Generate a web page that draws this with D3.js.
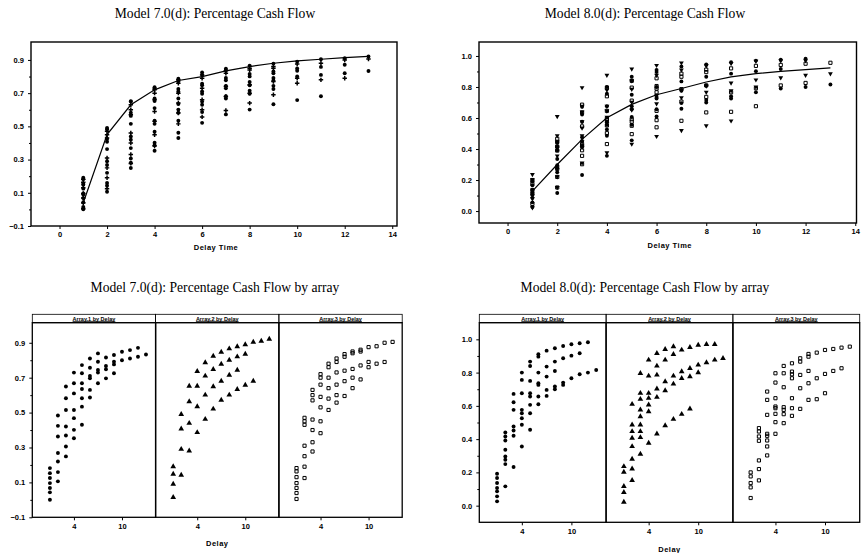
<!DOCTYPE html>
<html>
<head>
<meta charset="utf-8">
<script src="https://d3js.org/d3.v7.min.js"></script>
<style>
 body { margin: 0; background: #fff; }
 .title { font-family: "Liberation Serif", "Times New Roman", serif; font-size: 13.6px; fill: #000; }
 .lab { font-family: "Liberation Sans", Arial, sans-serif; font-weight: bold; font-size: 7.5px; fill: #000; }
 .strip { font-family: "Liberation Sans", Arial, sans-serif; font-weight: bold; font-size: 5.5px; fill: #000; }
</style>
</head>
<body>
<script>
// ---- data (index 0 = delay 1) ----
var delays = d3.range(1, 14);
var xTicksTop = [0, 2, 4, 6, 8, 10, 12, 14];
var xTicksArr = [4, 10];
var yTicks7 = [-0.1, 0.1, 0.3, 0.5, 0.7, 0.9];
var yTicks8 = [0.0, 0.2, 0.4, 0.6, 0.8, 1.0];
var stripNames = ["Array.1 by Delay", "Array.2 by Delay", "Array.3 by Delay"];

// fitted curve, model 7.0(d) and 8.0(d)
var fit7 = [0.04, 0.45, 0.63, 0.72, 0.776, 0.80, 0.834, 0.86, 0.88, 0.894, 0.904, 0.914, 0.922];
var fit8 = [0.129, 0.30, 0.462, 0.602, 0.688, 0.75, 0.79, 0.832, 0.865, 0.886, 0.90, 0.912, 0.923];

// model 7.0(d) cash flow per array
var m7a1 = [
 [0.182, 0.153, 0.125, 0.096, 0.068, 0.043, 0.001],
 [0.483, 0.424, 0.363, 0.268, 0.22, 0.159, 0.106],
 [0.649, 0.582, 0.515, 0.42, 0.369, 0.306, 0.249],
 [0.729, 0.668, 0.61, 0.515, 0.468, 0.401, 0.353],
 [0.772, 0.725, 0.668, 0.635, 0.582, 0.534, 0.43],
 [0.81, 0.757, 0.71, 0.696, 0.63, 0.586],
 [0.839, 0.791, 0.744, 0.729, 0.668],
 [0.816, 0.767, 0.748, 0.696],
 [0.83, 0.791, 0.776, 0.725],
 [0.849, 0.8],
 [0.858, 0.81],
 [0.871, 0.82],
 [0.833]
];
var m7a2 = [
 [0.191, 0.148, 0.09, 0.014],
 [0.49, 0.407, 0.29, 0.142],
 [0.652, 0.563, 0.439, 0.281],
 [0.736, 0.652, 0.534, 0.386],
 [0.787, 0.71, 0.601, 0.462],
 [0.824, 0.748, 0.649, 0.521],
 [0.847, 0.778, 0.681, 0.572],
 [0.866, 0.801, 0.715, 0.601],
 [0.878, 0.82, 0.744, 0.633],
 [0.89, 0.835, 0.658],
 [0.904, 0.681],
 [0.91],
 [0.921]
];
var m7a3 = [
 [0.182, 0.163, 0.13, 0.096, 0.068, 0.039, 0.005],
 [0.47, 0.45, 0.43, 0.31, 0.25, 0.19, 0.125],
 [0.63, 0.60, 0.57, 0.46, 0.40, 0.33, 0.277],
 [0.72, 0.70, 0.66, 0.59, 0.53, 0.45, 0.382],
 [0.78, 0.76, 0.70, 0.64, 0.58, 0.515],
 [0.81, 0.79, 0.73, 0.66, 0.60, 0.557],
 [0.835, 0.82, 0.74, 0.68, 0.595],
 [0.85, 0.84, 0.75, 0.70, 0.64],
 [0.86, 0.85, 0.77, 0.69],
 [0.875, 0.79, 0.76],
 [0.88, 0.78],
 [0.90, 0.79],
 [0.905]
];

// model 8.0(d) cash flow per array
var m8a1 = [
 [0.192, 0.166, 0.136, 0.106, 0.086, 0.056, 0.026],
 [0.44, 0.416, 0.392, 0.336, 0.296, 0.276, 0.25, 0.116],
 [0.672, 0.622, 0.576, 0.476, 0.452, 0.42, 0.232],
 [0.8, 0.756, 0.676, 0.576, 0.556, 0.526, 0.486, 0.356],
 [0.866, 0.84, 0.75, 0.676, 0.656, 0.606, 0.556, 0.456],
 [0.91, 0.896, 0.8, 0.736, 0.726, 0.656, 0.61],
 [0.932, 0.836, 0.776, 0.696, 0.66],
 [0.946, 0.866, 0.81, 0.716, 0.70],
 [0.96, 0.886, 0.74, 0.726],
 [0.97, 0.902, 0.766],
 [0.976, 0.916, 0.79],
 [0.982, 0.80],
 [0.816]
];
var m8a2 = [
 [0.236, 0.202, 0.116, 0.08, 0.022],
 [0.61, 0.486, 0.446, 0.406, 0.356, 0.28, 0.222, 0.152],
 [0.796, 0.676, 0.64, 0.576, 0.536, 0.486, 0.446, 0.41, 0.31],
 [0.876, 0.78, 0.676, 0.646, 0.606, 0.566, 0.376],
 [0.916, 0.84, 0.786, 0.702, 0.652, 0.432],
 [0.94, 0.876, 0.746, 0.692, 0.482],
 [0.956, 0.91, 0.78, 0.732, 0.52],
 [0.936, 0.806, 0.766, 0.55],
 [0.952, 0.826, 0.776, 0.582],
 [0.966, 0.846, 0.80],
 [0.97, 0.86],
 [0.97, 0.876],
 [0.886]
];
var m8a3 = [
 [0.2, 0.176, 0.136, 0.11, 0.046],
 [0.466, 0.446, 0.416, 0.39, 0.272, 0.22, 0.152],
 [0.686, 0.636, 0.546, 0.432, 0.42, 0.392, 0.356, 0.302],
 [0.796, 0.74, 0.646, 0.596, 0.586, 0.552, 0.502, 0.432],
 [0.84, 0.796, 0.712, 0.592, 0.576, 0.55, 0.496],
 [0.856, 0.806, 0.79, 0.766, 0.646, 0.586, 0.54],
 [0.886, 0.866, 0.786, 0.706, 0.582],
 [0.912, 0.896, 0.81, 0.736, 0.636],
 [0.92, 0.766, 0.64],
 [0.936, 0.792, 0.676],
 [0.942, 0.81],
 [0.95, 0.826],
 [0.956]
];

// ---- drawing ----
var svg = d3.select("body").append("svg")
            .attr("width", 861)
            .attr("height", 553);

function points(cols) {
  var out = [];
  cols.forEach(function(vs, i) {
    vs.forEach(function(v) { out.push({d: delays[i], v: v}); });
  });
  return out;
}

var marks = {
  dot:   {sym: d3.symbolCircle,   size: 12, fill: "#000", rot: 0},
  tri:   {sym: d3.symbolTriangle, size: 14, fill: "#000", rot: 0},
  tdown: {sym: d3.symbolTriangle, size: 10, fill: "#000", rot: 180},
  sq:    {sym: d3.symbolSquare,   size: 10, fill: "none", rot: 0},
  plus:  {sym: d3.symbolCross,    size: 11, fill: "#000", rot: 0}
};

function drawMarks(g, data, x, y, kind) {
  var m = marks[kind];
  g.selectAll(null)
   .data(data)
   .enter()
   .append("path")
   .attr("d", d3.symbol().type(m.sym).size(m.size))
   .attr("transform", function(d) { return "translate(" + x(d.d) + "," + y(d.v) + ") rotate(" + m.rot + ")"; })
   .attr("fill", m.fill)
   .attr("stroke", m.fill === "none" ? "#000" : "none")
   .attr("stroke-width", 1);
}

function yAxis(g, y, ticks, minor, x0) {
  var ax = g.append("g").attr("transform", "translate(" + x0 + ",0)")
    .call(d3.axisLeft(y).tickValues(ticks).tickSize(3).tickPadding(4)
      .tickFormat(function(d) { return d3.format(".1f")(d); }));
  g.append("g").attr("transform", "translate(" + x0 + ",0)")
    .call(d3.axisLeft(y).tickValues(minor).tickSize(2).tickFormat(""))
    .select(".domain").remove();
  ax.select(".domain").remove();
  ax.selectAll("text").attr("class", "lab").attr("font-size", null).attr("font-family", null);
  g.selectAll(".tick line").attr("stroke", "#000").attr("stroke-width", 1);
}

function xAxis(g, x, ticks, y0) {
  var ax = g.append("g").attr("transform", "translate(0," + y0 + ")")
    .call(d3.axisBottom(x).tickValues(ticks).tickSize(3).tickPadding(3));
  ax.select(".domain").remove();
  ax.selectAll("text").attr("class", "lab").attr("font-size", null).attr("font-family", null);
  ax.selectAll(".tick line").attr("stroke-width", 1);
}

function frame(g, x0, y0, x1, y1, w) {
  g.append("rect")
   .attr("x", x0).attr("y", y0)
   .attr("width", x1 - x0).attr("height", y1 - y0)
   .attr("fill", "none").attr("stroke", "#000").attr("stroke-width", w);
}

function drawTop(c) {
  var g = svg.append("g");
  var x = d3.scaleLinear().domain(c.xd).range([c.x0, c.x1]);
  var y = d3.scaleLinear().domain(c.yd).range([c.y1, c.y0]);
  g.append("text").attr("class", "title").attr("x", c.tx).attr("y", 18)
   .attr("text-anchor", "middle").text(c.title);
  c.series.forEach(function(s) { drawMarks(g, points(s.cols), x, y, s.mark); });
  g.append("path")
   .datum(c.fit)
   .attr("fill", "none")
   .attr("stroke", "#000")
   .attr("stroke-width", 1.2)
   .attr("d", d3.line().x(function(d, i) { return x(delays[i]); }).y(function(d) { return y(d); }));
  frame(g, c.x0, c.y0, c.x1, c.y1, 1.4);
  yAxis(g, y, c.yTicks, c.yMinor, c.x0);
  xAxis(g, x, xTicksTop, c.y1);
  g.append("text").attr("class", "lab").attr("x", (c.x0 + c.x1) / 2 + 2).attr("y", c.ly)
   .attr("text-anchor", "middle").attr("letter-spacing", 0.5).text("Delay Time");
}

function drawArrays(c) {
  var g = svg.append("g");
  var y = d3.scaleLinear().domain(c.yd).range([c.y1, c.y0]);
  g.append("text").attr("class", "title").attr("x", c.tx).attr("y", 292)
   .attr("text-anchor", "middle").text(c.title);
  c.series.forEach(function(s, i) {
    var px0 = c.x0 + i * c.pw, px1 = px0 + c.pw;
    var x = d3.scaleLinear().domain(c.xd).range([px0, px1]);
    drawMarks(g, points(s.cols), x, y, s.mark);
    frame(g, px0, c.y0, px1, c.y1, 1.3);
    frame(g, px0, c.sy, px1, c.y0, 0.8);
    var t = g.append("text").attr("class", "strip").attr("x", (px0 + px1) / 2).attr("y", c.y0 - 2.2)
     .attr("text-anchor", "middle").text(stripNames[i]);
    var tw = t.node().getComputedTextLength();
    g.append("line")
     .attr("x1", (px0 + px1) / 2 - tw / 2).attr("x2", (px0 + px1) / 2 + tw / 2)
     .attr("y1", c.y0 - 1.3).attr("y2", c.y0 - 1.3)
     .attr("stroke", "#000").attr("stroke-width", 0.8);
    xAxis(g, x, xTicksArr, c.y1);
  });
  yAxis(g, y, c.yTicks, c.yMinor, c.x0);
  g.append("text").attr("class", "lab").attr("x", c.x0 + 1.5 * c.pw).attr("y", c.ly)
   .attr("text-anchor", "middle").attr("letter-spacing", 0.5).text("Delay");
}

drawTop({
  title: "Model 7.0(d): Percentage Cash Flow", tx: 215,
  x0: 31, x1: 397, y0: 42, y1: 226,
  xd: [-1.2, 14.2], yd: [-0.1, 1.008],
  yTicks: yTicks7, yMinor: [0, 0.2, 0.4, 0.6, 0.8],
  fit: fit7, ly: 249.5,
  series: [{cols: m7a1, mark: "dot"}, {cols: m7a2, mark: "dot"}, {cols: m7a3, mark: "plus"}]
});

drawTop({
  title: "Model 8.0(d): Percentage Cash Flow", tx: 645,
  x0: 479, x1: 856.5, y0: 42, y1: 223,
  xd: [-1.15, 14.05], yd: [-0.077, 1.09],
  yTicks: yTicks8, yMinor: [0.1, 0.3, 0.5, 0.7, 0.9],
  fit: fit8, ly: 248,
  series: [{cols: m8a1, mark: "dot"}, {cols: m8a2, mark: "tdown"}, {cols: m8a3, mark: "sq"}]
});

drawArrays({
  title: "Model 7.0(d): Percentage Cash Flow by array", tx: 215,
  x0: 32.3, pw: 123.3, sy: 314.3, y0: 322.7, y1: 517.3,
  xd: [-1.2, 14.2], yd: [-0.1, 1.015],
  yTicks: yTicks7, yMinor: [0, 0.2, 0.4, 0.6, 0.8],
  ly: 545.5,
  series: [{cols: m7a1, mark: "dot"}, {cols: m7a2, mark: "tri"}, {cols: m7a3, mark: "sq"}]
});

drawArrays({
  title: "Model 8.0(d): Percentage Cash Flow by array", tx: 645,
  x0: 479.3, pw: 126.8, sy: 314.3, y0: 322.7, y1: 522.3,
  xd: [-1.15, 14.2], yd: [-0.1, 1.1],
  yTicks: yTicks8, yMinor: [0.1, 0.3, 0.5, 0.7, 0.9],
  ly: 551.5,
  series: [{cols: m8a1, mark: "dot"}, {cols: m8a2, mark: "tri"}, {cols: m8a3, mark: "sq"}]
});
</script>
</body>
</html>
